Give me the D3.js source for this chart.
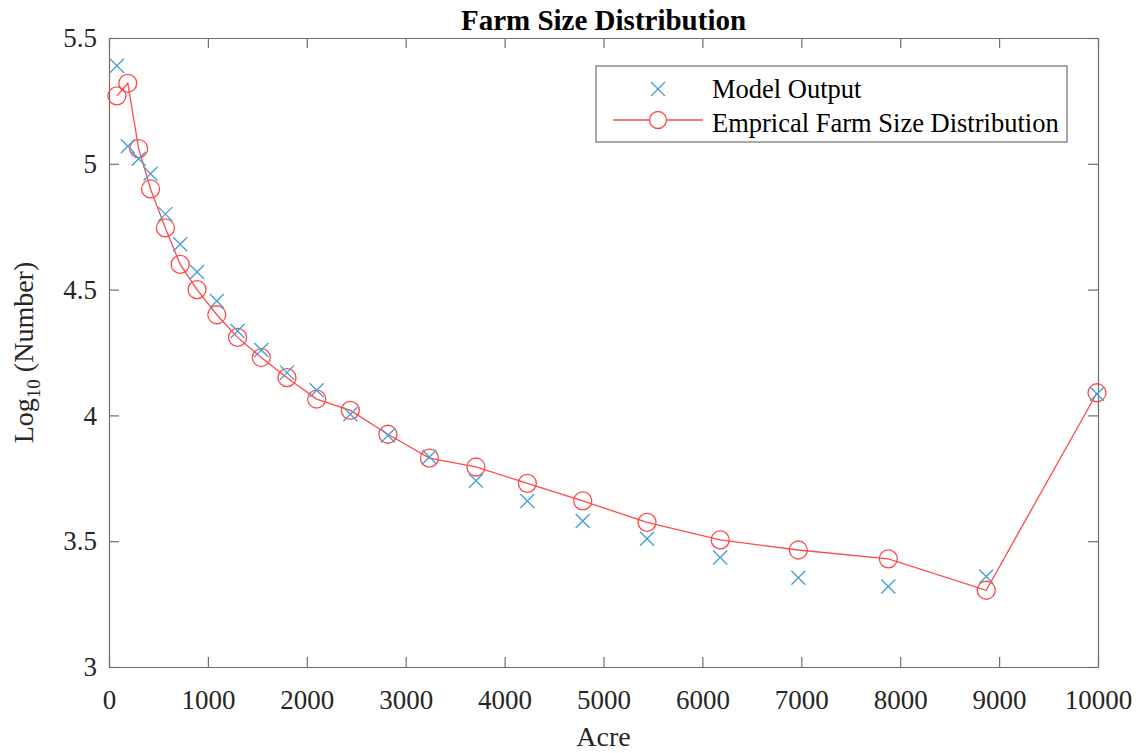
<!DOCTYPE html>
<html>
<head>
<meta charset="utf-8">
<script src="https://cdn.jsdelivr.net/npm/d3@7"></script>
<style>
  html, body { margin: 0; padding: 0; background: #fff; }
  svg { display: block; font-family: "Liberation Serif", "Times New Roman", serif; }
</style>
</head>
<body>
<svg id="chart" width="1145" height="753"></svg>
<script>
// Farm size bins (acres) and log10 counts
const acres = [80, 190, 300, 420, 570, 720, 890, 1090, 1300, 1540, 1800, 2100, 2440, 2820, 3240, 3710, 4230, 4790, 5440, 6180, 6970, 7880, 8870, 9990];
const modelOutput = [5.39, 5.07, 5.02, 4.96, 4.80, 4.68, 4.57, 4.455, 4.335, 4.26, 4.17, 4.10, 4.005, 3.92, 3.835, 3.74, 3.66, 3.58, 3.51, 3.435, 3.355, 3.32, 3.36, 4.085];
const empirical = [5.27, 5.32, 5.06, 4.90, 4.745, 4.60, 4.50, 4.40, 4.31, 4.23, 4.15, 4.065, 4.02, 3.925, 3.83, 3.795, 3.73, 3.66, 3.575, 3.505, 3.465, 3.43, 3.305, 4.09];
const xTicks = [0, 1000, 2000, 3000, 4000, 5000, 6000, 7000, 8000, 9000, 10000];
const yTicks = [3, 3.5, 4, 4.5, 5, 5.5];
const seriesNames = ["Model Output", "Emprical Farm Size Distribution"];

const blue = "#4a9fd8";
const red = "#ff4a4a";
const axisColor = "#6e6e6e";
const textColor = "#262626";

const svg = d3.select("#chart");
const m = { left: 109, right: 1098, top: 38, bottom: 667 };

const x = d3.scaleLinear().domain([0, 10000]).range([m.left, m.right]);
const y = d3.scaleLinear().domain([3, 5.5]).range([m.bottom, m.top]);

// Axes with inward ticks on all four sides
const tickLen = 10;
const g = svg.append("g");

const axisBottom = d3.axisBottom(x).tickValues(xTicks).tickSizeInner(-tickLen).tickSizeOuter(0).tickPadding(23).tickFormat(d3.format("d"));
const axisTop = d3.axisTop(x).tickValues(xTicks).tickSizeInner(-tickLen).tickSizeOuter(0).tickFormat("");
const axisLeft = d3.axisLeft(y).tickValues(yTicks).tickSizeInner(-tickLen).tickSizeOuter(0).tickPadding(12).tickFormat(d => String(d));
const axisRight = d3.axisRight(y).tickValues(yTicks).tickSizeInner(-tickLen).tickSizeOuter(0).tickFormat("");

function styleAxis(sel) {
  sel.selectAll("path").attr("stroke", axisColor).attr("stroke-width", 1.2);
  sel.selectAll("line").attr("stroke", axisColor).attr("stroke-width", 1.2);
  sel.selectAll("text").attr("fill", textColor).style("font-family", "'Liberation Serif', serif").style("font-size", "27px");
}

g.append("g").attr("transform", `translate(0,${m.bottom})`).call(axisBottom).call(styleAxis);
g.append("g").attr("transform", `translate(0,${m.top})`).call(axisTop).call(styleAxis);
g.append("g").attr("transform", `translate(${m.left},0)`).call(axisLeft).call(styleAxis);
g.append("g").attr("transform", `translate(${m.right},0)`).call(axisRight).call(styleAxis);

// Empirical distribution: line with open circles
const line = d3.line().x((d, i) => x(acres[i])).y(d => y(d));
svg.append("path")
  .datum(empirical)
  .attr("d", line)
  .attr("fill", "none")
  .attr("stroke", red)
  .attr("stroke-width", 1.3);

svg.append("g").selectAll("circle")
  .data(empirical)
  .join("circle")
  .attr("cx", (d, i) => x(acres[i]))
  .attr("cy", d => y(d))
  .attr("r", 9)
  .attr("fill", "none")
  .attr("stroke", red)
  .attr("stroke-width", 1.3);

// Model output: cross markers
const crossSize = 7;
function crossPath(cx, cy, s) {
  return `M${cx - s},${cy - s}L${cx + s},${cy + s}M${cx - s},${cy + s}L${cx + s},${cy - s}`;
}
svg.append("g").selectAll("path")
  .data(modelOutput)
  .join("path")
  .attr("d", (d, i) => crossPath(x(acres[i]), y(d), crossSize))
  .attr("fill", "none")
  .attr("stroke", blue)
  .attr("stroke-width", 1.4);

// Title and axis labels
svg.append("text")
  .attr("x", (m.left + m.right) / 2)
  .attr("y", 30)
  .attr("text-anchor", "middle")
  .attr("font-weight", "bold")
  .attr("font-size", "29px")
  .attr("fill", "#000")
  .text("Farm Size Distribution");

svg.append("text")
  .attr("x", (m.left + m.right) / 2)
  .attr("y", 746)
  .attr("text-anchor", "middle")
  .attr("font-size", "28px")
  .attr("fill", textColor)
  .text("Acre");

const yl = svg.append("text")
  .attr("transform", `translate(33,${(m.top + m.bottom) / 2}) rotate(-90)`)
  .attr("text-anchor", "middle")
  .attr("font-size", "28px")
  .attr("fill", textColor);
yl.append("tspan").text("Log");
yl.append("tspan").attr("font-size", "19px").attr("dy", 7).text("10");
yl.append("tspan").attr("dy", -7).text(" (Number)");

// Legend
const lg = svg.append("g");
lg.append("rect")
  .attr("x", 596).attr("y", 66)
  .attr("width", 471).attr("height", 76)
  .attr("fill", "#fff")
  .attr("stroke", axisColor)
  .attr("stroke-width", 1.2);

lg.append("path")
  .attr("d", crossPath(658, 89, crossSize))
  .attr("stroke", blue).attr("stroke-width", 1.4).attr("fill", "none");
lg.append("line")
  .attr("x1", 613).attr("x2", 703).attr("y1", 120).attr("y2", 120)
  .attr("stroke", red).attr("stroke-width", 1.3);
lg.append("circle")
  .attr("cx", 658).attr("cy", 120).attr("r", 8.5)
  .attr("fill", "#fff").attr("stroke", red).attr("stroke-width", 1.3);

lg.selectAll("text.leg")
  .data(seriesNames)
  .join("text")
  .attr("class", "leg")
  .attr("x", 712)
  .attr("y", (d, i) => 98 + i * 34)
  .attr("font-size", "26.5px")
  .attr("fill", "#000")
  .text(d => d);
</script>
</body>
</html>
